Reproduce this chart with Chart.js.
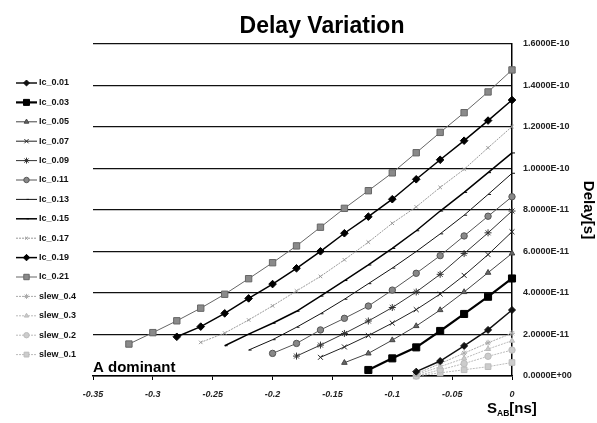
<!DOCTYPE html>
<html>
<head>
<meta charset="utf-8">
<script src="https://cdn.jsdelivr.net/npm/chart.js@4.4.1/dist/chart.umd.min.js"></script>
<style>
  html, body { margin: 0; padding: 0; background: #fff; }
</style>
</head>
<body>
<canvas id="chart" width="597" height="423"></canvas>
<script>
// S_AB [ns] sample points
const SAB = [-0.32, -0.30, -0.28, -0.26, -0.24, -0.22, -0.20, -0.18, -0.16, -0.14, -0.12, -0.10, -0.08, -0.06, -0.04, -0.02, 0];

// delay in units of 1E-11 s
const n = null;
const IC_001 = [n, n, n, n, n, n, n, n, n, n, n, n, 0.21, 0.72, 1.45, 2.22, 3.18];
const IC_003 = [n, n, n, n, n, n, n, n, n, n, 0.29, 0.85, 1.38, 2.17, 2.99, 3.82, 4.70];
const IC_005 = [n, n, n, n, n, n, n, n, n, 0.64, 1.09, 1.73, 2.41, 3.18, 4.05, 4.98, 5.91];
const IC_007 = [n, n, n, n, n, n, n, n, 0.90, 1.40, 1.95, 2.55, 3.20, 3.95, 4.85, 5.85, 6.95];
const IC_009 = [n, n, n, n, n, n, n, 0.96, 1.49, 2.05, 2.65, 3.30, 4.05, 4.90, 5.90, 6.90, 7.95];
const IC_011 = [n, n, n, n, n, n, 1.09, 1.57, 2.22, 2.78, 3.37, 4.14, 4.95, 5.80, 6.75, 7.70, 8.64];
const IC_013 = [n, n, n, n, n, 1.25, 1.75, 2.35, 3.00, 3.70, 4.45, 5.20, 6.00, 6.85, 7.75, 8.75, 9.77];
const IC_015 = [n, n, n, n, 1.46, 2.02, 2.54, 3.12, 3.85, 4.60, 5.35, 6.15, 7.00, 7.95, 8.85, 9.80, 10.75];
const IC_017 = [n, n, n, 1.62, 2.07, 2.70, 3.38, 4.10, 4.80, 5.60, 6.45, 7.36, 8.15, 9.09, 9.96, 11.00, 12.02];
const IC_019 = [n, n, 1.89, 2.38, 3.02, 3.74, 4.43, 5.19, 6.01, 6.88, 7.68, 8.52, 9.48, 10.42, 11.34, 12.31, 13.30];
const IC_021 = [1.54, 2.09, 2.66, 3.27, 3.94, 4.69, 5.46, 6.27, 7.17, 8.08, 8.93, 9.79, 10.76, 11.74, 12.69, 13.69, 14.75];
const SLEW_04 = [n, n, n, n, n, n, n, n, n, n, n, n, 0.10, 0.60, 1.10, 1.60, 2.06];
const SLEW_03 = [n, n, n, n, n, n, n, n, n, n, n, n, 0.05, 0.45, 0.85, 1.30, 1.70];
const SLEW_02 = [n, n, n, n, n, n, n, n, n, n, n, n, 0.00, 0.30, 0.60, 0.95, 1.25];
const SLEW_01 = [n, n, n, n, n, n, n, n, n, n, n, n, 0.00, 0.15, 0.30, 0.45, 0.65];

const LABELS = ['Ic_0.01', 'Ic_0.03', 'Ic_0.05', 'Ic_0.07', 'Ic_0.09', 'Ic_0.11', 'Ic_0.13',
  'Ic_0.15', 'Ic_0.17', 'Ic_0.19', 'Ic_0.21', 'slew_0.4', 'slew_0.3', 'slew_0.2', 'slew_0.1'];
const VALUES = [IC_001, IC_003, IC_005, IC_007, IC_009, IC_011, IC_013,
  IC_015, IC_017, IC_019, IC_021, SLEW_04, SLEW_03, SLEW_02, SLEW_01];

const Y_TICKS = [0, 2, 4, 6, 8, 10, 12, 14, 16];

// look of each series, same order as LABELS
const STYLES = [
  { c: '#111', w: 1.5, p: 'rectRot', r: 3.5, f: '#111' },
  { c: '#000', w: 2.2, p: 'rect', r: 5, f: '#000' },
  { c: '#444', w: 1, p: 'triangle', r: 3.2, f: '#666' },
  { c: '#222', w: 1, p: 'crossRot', r: 3.5, f: '#222' },
  { c: '#333', w: 1, p: 'star', r: 3.5, f: '#333' },
  { c: '#555', w: 1, p: 'circle', r: 3.2, f: '#888' },
  { c: '#111', w: 1, p: 'dash', r: 3, f: '#111' },
  { c: '#000', w: 1.5, p: 'dash', r: 3, f: '#000' },
  { c: '#999', w: 1, p: 'crossRot', r: 2.5, f: '#999', d: [2, 1] },
  { c: '#000', w: 1.5, p: 'rectRot', r: 3.8, f: '#000' },
  { c: '#666', w: 1, p: 'rect', r: 4.5, f: '#8a8a8a' },
  { c: '#aaa', w: 1, p: 'star', r: 3, f: '#aaa', d: [2, 1] },
  { c: '#bbb', w: 1, p: 'triangle', r: 3, f: '#ccc', d: [2, 1] },
  { c: '#bbb', w: 1, p: 'circle', r: 3.2, f: '#ccc', d: [2, 1] },
  { c: '#bbb', w: 1, p: 'rect', r: 4, f: '#ccc', d: [2, 1] },
];

const toPoints = vals => SAB.map((x, i) => vals[i] == null ? null : { x, y: vals[i] }).filter(Boolean);

const datasets = LABELS.map((label, i) => {
  const s = STYLES[i];
  return {
    label,
    data: toPoints(VALUES[i]),
    borderColor: s.c,
    borderWidth: s.w,
    borderDash: s.d || [],
    pointStyle: s.p,
    pointRadius: s.r,
    pointBackgroundColor: s.f,
    pointBorderColor: s.c,
    pointBorderWidth: 1,
    tension: 0,
    clip: false,
  };
});

const sci = v => {
  if (v === 0) return '0.0000E+00';
  const [m, e] = (v * 1e-11).toExponential(4).split('e');
  const ex = Math.abs(parseInt(e, 10));
  return m + 'E' + (parseInt(e, 10) < 0 ? '-' : '+') + String(ex).padStart(2, '0');
};

const extras = {
  id: 'extras',
  afterDraw(chart) {
    const ctx = chart.ctx;
    ctx.save();
    // side legend
    chart.data.datasets.forEach((ds, i) => {
      const y = 83 + i * 19.4;
      ctx.strokeStyle = ds.borderColor;
      ctx.lineWidth = ds.borderWidth;
      ctx.setLineDash(ds.borderDash);
      ctx.beginPath();
      ctx.moveTo(16, y);
      ctx.lineTo(37, y);
      ctx.stroke();
      ctx.setLineDash([]);
      ctx.lineWidth = 1;
      ctx.fillStyle = ds.pointBackgroundColor;
      Chart.helpers.drawPoint(ctx, { pointStyle: ds.pointStyle, radius: ds.pointRadius * 0.85, rotation: 0, borderWidth: 1 }, 26.5, y);
      ctx.fillStyle = '#111';
      ctx.font = 'bold 9px "Liberation Sans"';
      ctx.textAlign = 'left';
      ctx.textBaseline = 'middle';
      ctx.fillText(ds.label, 39, y);
    });

    ctx.fillStyle = '#000';
    ctx.textBaseline = 'alphabetic';
    // title
    ctx.font = 'bold 23px "Liberation Sans"';
    ctx.textAlign = 'center';
    ctx.fillText('Delay Variation', 322, 33);

    // note
    ctx.font = 'bold 15px "Liberation Sans"';
    ctx.textAlign = 'left';
    ctx.fillText('A dominant', 93, 372);

    // x axis title with subscript
    let x = 487;
    ctx.font = 'bold 15px "Liberation Sans"';
    ctx.fillText('S', x, 413);
    x += ctx.measureText('S').width;
    ctx.font = 'bold 8.5px "Liberation Sans"';
    ctx.fillText('AB', x, 416);
    x += ctx.measureText('AB').width;
    ctx.font = 'bold 15px "Liberation Sans"';
    ctx.fillText('[ns]', x, 413);
    ctx.restore();
  }
};

new Chart(document.getElementById('chart'), {
  type: 'line',
  data: { datasets },
  options: {
    responsive: false,
    animation: false,
    layout: { padding: { left: 93, top: 44, right: 0, bottom: 0 } },
    plugins: {
      legend: { display: false },
      tooltip: { enabled: false },
      title: { display: false }
    },
    scales: {
      x: {
        type: 'linear',
        min: -0.35,
        max: 0,
        afterFit: s => { s.height = 47; },
        grid: { drawOnChartArea: false, drawTicks: true, tickLength: 4, color: '#000' },
        border: { display: true, color: '#000', width: 1.5 },
        ticks: {
          stepSize: 0.05,
          padding: 9,
          color: '#222',
          font: { family: 'Liberation Sans', size: 9, style: 'italic', weight: 'bold' },
          callback: v => String(Math.round(v * 100) / 100)
        }
      },
      y: {
        position: 'right',
        min: 0,
        max: 16,
        afterFit: s => { s.width = 85; },
        afterBuildTicks: s => { s.ticks = Y_TICKS.map(value => ({ value })); },
        grid: { color: '#111', lineWidth: 1.2, drawTicks: false },
        border: { display: true, color: '#000', width: 1.5 },
        ticks: {
          padding: 11,
          color: '#222',
          font: { family: 'Liberation Sans', size: 9, weight: 'bold' },
          callback: v => sci(v)
        },
        title: {
          display: true,
          text: 'Delay[s]',
          color: '#000',
          padding: 0,
          font: { family: 'Liberation Sans', size: 15, weight: 'bold' }
        }
      }
    }
  },
  plugins: [extras]
});
</script>
</body>
</html>
